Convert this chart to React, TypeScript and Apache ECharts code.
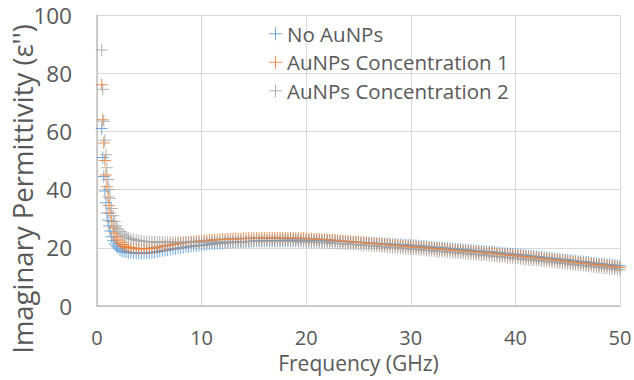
import React, { useEffect, useRef } from "react";
import * as echarts from "echarts";

const seriesNames = ["No AuNPs", "AuNPs Concentration 1", "AuNPs Concentration 2"];
const colors = ["#5B9BD5", "#ED7D31", "#A5A5A5"];
const xTicks = [0, 10, 20, 30, 40, 50];
const yTicks = [0, 20, 40, 60, 80, 100];
const xTitle = "Frequency (GHz)";
const yTitle = "Imaginary Permittivity (ε'')";

// Frequency (GHz)
const freq = [
  0.45, 0.55, 0.65, 0.75, 0.85, 0.95, 1.05, 1.15, 1.25, 1.4, 1.55, 1.7, 1.85, 2.0, 2.2, 2.4, 2.6, 2.8,
  3, 3.25, 3.5, 3.75, 4, 4.25, 4.5, 4.75, 5, 5.25, 5.5, 5.75, 6, 6.25, 6.5, 6.75,
  7, 7.25, 7.5, 7.75, 8, 8.25, 8.5, 8.75, 9, 9.25, 9.5, 9.75, 10, 10.25, 10.5, 10.75,
  11, 11.25, 11.5, 11.75, 12, 12.25, 12.5, 12.75, 13, 13.25, 13.5, 13.75, 14, 14.25, 14.5, 14.75,
  15, 15.25, 15.5, 15.75, 16, 16.25, 16.5, 16.75, 17, 17.25, 17.5, 17.75, 18, 18.25, 18.5, 18.75,
  19, 19.25, 19.5, 19.75, 20, 20.25, 20.5, 20.75, 21, 21.25, 21.5, 21.75, 22, 22.25, 22.5, 22.75,
  23, 23.25, 23.5, 23.75, 24, 24.25, 24.5, 24.75, 25, 25.25, 25.5, 25.75, 26, 26.25, 26.5, 26.75,
  27, 27.25, 27.5, 27.75, 28, 28.25, 28.5, 28.75, 29, 29.25, 29.5, 29.75, 30, 30.25, 30.5, 30.75,
  31, 31.25, 31.5, 31.75, 32, 32.25, 32.5, 32.75, 33, 33.25, 33.5, 33.75, 34, 34.25, 34.5, 34.75,
  35, 35.25, 35.5, 35.75, 36, 36.25, 36.5, 36.75, 37, 37.25, 37.5, 37.75, 38, 38.25, 38.5, 38.75,
  39, 39.25, 39.5, 39.75, 40, 40.25, 40.5, 40.75, 41, 41.25, 41.5, 41.75, 42, 42.25, 42.5, 42.75,
  43, 43.25, 43.5, 43.75, 44, 44.25, 44.5, 44.75, 45, 45.25, 45.5, 45.75, 46, 46.25, 46.5, 46.75,
  47, 47.25, 47.5, 47.75, 48, 48.25, 48.5, 48.75, 49, 49.25, 49.5, 49.75, 50,
];

const noAuNPs = [
  61, 51, 44.5, 39.5, 35.5, 32, 29.5, 27.5, 25.8, 23.8, 22.4, 21.3, 20.5, 19.9, 19.3, 18.9, 18.7, 18.5,
  18.4, 18.3, 18.2, 18.15, 18.1, 18.1, 18.1, 18.2, 18.3, 18.4, 18.5, 18.65, 18.8, 18.95, 19.1, 19.25,
  19.4, 19.55, 19.7, 19.85, 20.0, 20.1, 20.25, 20.4, 20.5, 20.6, 20.7, 20.8, 20.9, 21.0, 21.1, 21.2,
  21.3, 21.4, 21.45, 21.5, 21.6, 21.7, 21.75, 21.8, 21.9, 21.95, 22.0, 22.05, 22.1, 22.15, 22.2, 22.25,
  22.3, 22.3, 22.35, 22.4, 22.4, 22.45, 22.45, 22.5, 22.5, 22.55, 22.55, 22.6, 22.6, 22.6, 22.6, 22.6,
  22.6, 22.6, 22.6, 22.6, 22.6, 22.6, 22.55, 22.55, 22.5, 22.5, 22.45, 22.45, 22.4, 22.4, 22.35, 22.3,
  22.3, 22.25, 22.2, 22.15, 22.1, 22.05, 22.0, 21.95, 21.9, 21.85, 21.8, 21.75, 21.7, 21.65, 21.6, 21.55,
  21.5, 21.45, 21.4, 21.35, 21.3, 21.25, 21.2, 21.15, 21.1, 21.05, 21.0, 20.95, 20.9, 20.8, 20.75, 20.7,
  20.6, 20.5, 20.45, 20.4, 20.3, 20.2, 20.15, 20.1, 20.0, 19.9, 19.85, 19.8, 19.7, 19.6, 19.55, 19.5,
  19.4, 19.3, 19.25, 19.2, 19.1, 19.0, 18.95, 18.9, 18.8, 18.7, 18.65, 18.6, 18.5, 18.4, 18.3, 18.2,
  18.1, 18.0, 17.95, 17.9, 17.8, 17.7, 17.6, 17.5, 17.4, 17.3, 17.2, 17.1, 17.0, 16.9, 16.8, 16.7,
  16.6, 16.5, 16.4, 16.3, 16.2, 16.1, 16.0, 15.9, 15.8, 15.7, 15.6, 15.5, 15.4, 15.3, 15.2, 15.1,
  15.0, 14.9, 14.8, 14.7, 14.6, 14.5, 14.4, 14.3, 14.2, 14.1, 14.0, 13.9, 13.8,
];

const conc1 = [
  76, 64, 56, 50, 45, 41, 37.5, 34.5, 32, 29, 26.8, 25, 23.7, 22.7, 21.8, 21.1, 20.6, 20.3,
  20.1, 20.0, 19.9, 19.8, 19.7, 19.7, 19.7, 19.75, 19.8, 19.9, 20.05, 20.2, 20.4, 20.55, 20.7, 20.85,
  21.0, 21.15, 21.3, 21.45, 21.6, 21.7, 21.8, 21.9, 22.0, 22.1, 22.2, 22.3, 22.4, 22.5, 22.55, 22.6,
  22.7, 22.75, 22.8, 22.85, 22.9, 22.95, 23.0, 23.05, 23.1, 23.1, 23.15, 23.15, 23.2, 23.2, 23.25, 23.25,
  23.3, 23.3, 23.35, 23.35, 23.4, 23.4, 23.4, 23.4, 23.4, 23.4, 23.4, 23.4, 23.4, 23.4, 23.35, 23.35,
  23.3, 23.3, 23.25, 23.25, 23.2, 23.15, 23.1, 23.05, 23.0, 22.95, 22.9, 22.85, 22.8, 22.7, 22.65, 22.6,
  22.5, 22.4, 22.35, 22.3, 22.2, 22.1, 22.05, 22.0, 21.9, 21.8, 21.75, 21.7, 21.6, 21.5, 21.45, 21.4,
  21.3, 21.2, 21.15, 21.1, 21.0, 20.9, 20.85, 20.8, 20.7, 20.6, 20.55, 20.5, 20.4, 20.3, 20.25, 20.2,
  20.1, 20.0, 19.95, 19.9, 19.8, 19.7, 19.65, 19.6, 19.5, 19.4, 19.35, 19.3, 19.2, 19.1, 19.05, 19.0,
  18.9, 18.8, 18.75, 18.7, 18.6, 18.5, 18.45, 18.4, 18.3, 18.2, 18.15, 18.1, 18.0, 17.9, 17.8, 17.7,
  17.6, 17.5, 17.45, 17.4, 17.3, 17.2, 17.1, 17.0, 16.9, 16.8, 16.7, 16.6, 16.5, 16.4, 16.3, 16.2,
  16.1, 16.0, 15.9, 15.8, 15.7, 15.6, 15.5, 15.4, 15.3, 15.2, 15.1, 15.0, 14.9, 14.8, 14.7, 14.6,
  14.5, 14.4, 14.3, 14.2, 14.1, 14.0, 13.9, 13.8, 13.7, 13.6, 13.5, 13.35, 13.2,
];

const conc2 = [
  88, 74.5, 63.5, 57, 52, 47.5, 43.5, 40, 37, 33.5, 31, 29, 27.5, 26.5, 25.5, 24.7, 24.1, 23.7,
  23.4, 23.1, 22.85, 22.6, 22.4, 22.3, 22.2, 22.15, 22.1, 22.05, 22.0, 22.0, 22.0, 21.95, 21.95, 21.9,
  21.9, 21.9, 21.9, 21.9, 21.9, 21.9, 21.9, 21.9, 21.9, 21.9, 21.9, 21.9, 21.9, 21.9, 21.95, 21.95,
  22.0, 22.0, 22.0, 22.0, 22.0, 22.05, 22.05, 22.05, 22.1, 22.1, 22.1, 22.1, 22.1, 22.15, 22.15, 22.15,
  22.2, 22.2, 22.2, 22.2, 22.2, 22.2, 22.2, 22.2, 22.2, 22.2, 22.2, 22.2, 22.2, 22.2, 22.15, 22.15,
  22.1, 22.1, 22.05, 22.05, 22.0, 22.0, 21.95, 21.9, 21.9, 21.85, 21.8, 21.75, 21.7, 21.65, 21.6, 21.55,
  21.5, 21.45, 21.4, 21.35, 21.3, 21.2, 21.15, 21.1, 21.0, 20.95, 20.9, 20.85, 20.8, 20.7, 20.65, 20.6,
  20.5, 20.4, 20.35, 20.3, 20.2, 20.1, 20.05, 20.0, 19.9, 19.8, 19.75, 19.7, 19.6, 19.5, 19.45, 19.4,
  19.3, 19.2, 19.15, 19.1, 19.0, 18.9, 18.85, 18.8, 18.7, 18.6, 18.55, 18.5, 18.4, 18.3, 18.25, 18.2,
  18.1, 18.0, 17.95, 17.9, 17.8, 17.7, 17.65, 17.6, 17.5, 17.4, 17.3, 17.2, 17.1, 17.0, 16.95, 16.9,
  16.8, 16.7, 16.6, 16.5, 16.4, 16.3, 16.2, 16.1, 16.0, 15.9, 15.85, 15.8, 15.7, 15.6, 15.5, 15.4,
  15.3, 15.2, 15.1, 15.0, 14.9, 14.8, 14.7, 14.6, 14.5, 14.4, 14.3, 14.2, 14.1, 14.0, 13.9, 13.8,
  13.7, 13.6, 13.5, 13.4, 13.3, 13.2, 13.1, 13.0, 12.9, 12.8, 12.7, 12.55, 12.4,
];

const PLUS = "path://M5.5,0h1v12h-1zM0,5.5h12v1h-12z";
const FONT = "'Open Sans', 'Noto Sans', sans-serif";
const TEXT = "#595959";

export default function App() {
  const ref = useRef<HTMLDivElement>(null);

  useEffect(() => {
    document.body.style.margin = "0";
    if (!ref.current) return;
    const chart = echarts.init(ref.current, undefined, { renderer: "svg" });
    const values = [noAuNPs, conc1, conc2];
    chart.setOption({
      animation: false,
      textStyle: { fontFamily: FONT },
      grid: { left: 97, right: 14, top: 15, bottom: 74, containLabel: false, outerBoundsMode: "none" },
      legend: {
        orient: "vertical",
        left: 264,
        top: 17,
        itemGap: 5,
        itemWidth: 13,
        itemHeight: 13,
        icon: PLUS,
        data: seriesNames,
        textStyle: { fontSize: 20.5, color: TEXT, fontFamily: FONT, lineHeight: 23.5 },
      },
      graphic: [
        {
          type: "text",
          x: 22,
          y: 189,
          rotation: Math.PI / 2,
          style: {
            text: yTitle,
            fill: TEXT,
            font: `27.5px ${FONT}`,
            textAlign: "center",
            textVerticalAlign: "middle",
          },
        },
      ],
      xAxis: {
        type: "value",
        min: xTicks[0],
        max: xTicks[xTicks.length - 1],
        interval: xTicks[1] - xTicks[0],
        name: xTitle,
        nameLocation: "middle",
        nameGap: 46,
        nameTextStyle: { fontSize: 21, lineHeight: 21, color: TEXT, fontFamily: FONT },
        axisLine: { show: true, lineStyle: { color: "#BFBFBF", width: 1.5 } },
        axisTick: { show: false },
        axisLabel: { fontSize: 20, lineHeight: 20, color: TEXT, fontFamily: FONT, margin: 21 },
        splitLine: { show: true, lineStyle: { color: "#D9D9D9", width: 1 } },
      },
      yAxis: {
        type: "value",
        min: yTicks[0],
        max: yTicks[yTicks.length - 1],
        interval: yTicks[1] - yTicks[0],
        axisLine: { show: true, lineStyle: { color: "#BFBFBF", width: 1.5 } },
        axisTick: { show: false },
        axisLabel: { fontSize: 22.5, color: TEXT, fontFamily: FONT, margin: 25 },
        splitLine: { show: true, lineStyle: { color: "#D9D9D9", width: 1 } },
      },
      series: seriesNames.map((name, s) => ({
        name,
        type: "scatter",
        symbol: PLUS,
        symbolSize: 12,
        itemStyle: { color: colors[s], opacity: 0.85 },
        data: freq.map((f, i) => [f, values[s][i]]),
      })),
    });
    return () => chart.dispose();
  }, []);

  return <div ref={ref} style={{ width: 634, height: 380 }} />;
}
